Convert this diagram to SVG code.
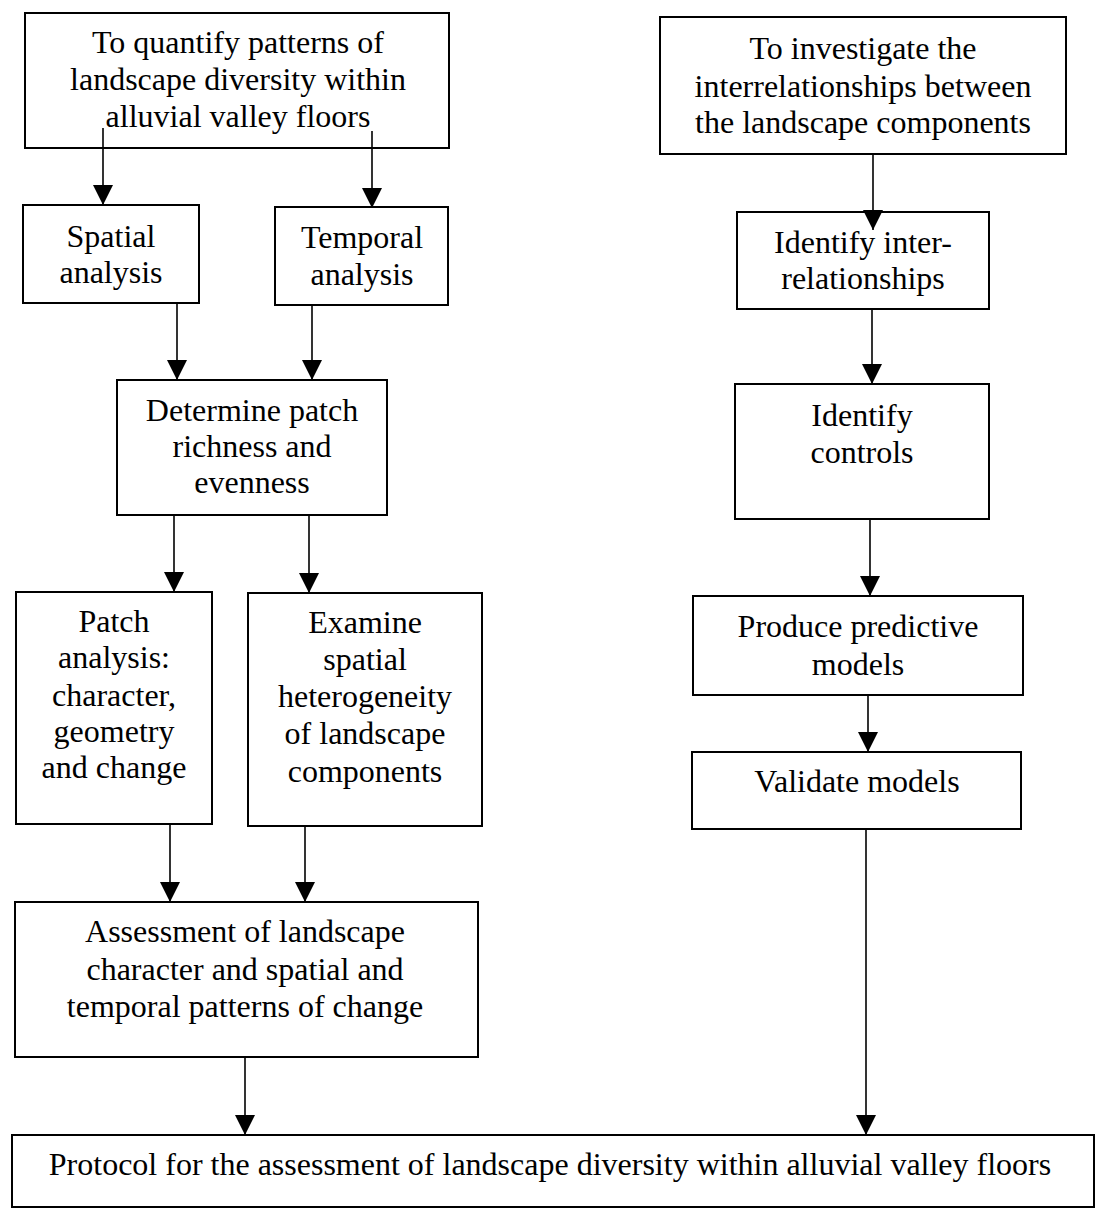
<svg xmlns="http://www.w3.org/2000/svg" width="1097" height="1209" viewBox="0 0 1097 1209">
<style>
.box{fill:#fff;stroke:#000;stroke-width:2}
.t{font-family:"Liberation Serif","Times New Roman",serif;font-size:32px;fill:#000;text-anchor:middle}
.c{stroke:#000;stroke-width:1.6;fill:none;marker-end:url(#ah)}
</style>
<defs>
<marker id="ah" markerUnits="userSpaceOnUse" markerWidth="20" markerHeight="20" refX="20" refY="10" orient="auto" viewBox="0 0 20 20">
<path d="M0,0 L20,10 L0,20 z" fill="#000"/>
</marker>
</defs>
<rect width="1097" height="1209" fill="#fff"/>
<g id="n1"><rect class="box" x="25" y="13" width="424" height="135"/>
<text class="t" x="238" y="53">To quantify patterns of</text>
<text class="t" x="238" y="90">landscape diversity within</text>
<text class="t" x="238" y="127">alluvial valley floors</text></g>
<g id="n2"><rect class="box" x="660" y="17" width="406" height="137"/>
<text class="t" x="863" y="59">To investigate the</text>
<text class="t" x="863" y="97">interrelationships between</text>
<text class="t" x="863" y="133">the landscape components</text></g>
<g id="n3"><rect class="box" x="23" y="205" width="176" height="98"/>
<text class="t" x="111" y="247">Spatial</text>
<text class="t" x="111" y="283">analysis</text></g>
<g id="n4"><rect class="box" x="275" y="207" width="173" height="98"/>
<text class="t" x="362" y="248">Temporal</text>
<text class="t" x="362" y="285">analysis</text></g>
<g id="n5"><rect class="box" x="737" y="212" width="252" height="97"/>
<text class="t" x="863" y="253">Identify inter-</text>
<text class="t" x="863" y="289">relationships</text></g>
<g id="n6"><rect class="box" x="117" y="380" width="270" height="135"/>
<text class="t" x="252" y="421">Determine patch</text>
<text class="t" x="252" y="457">richness and</text>
<text class="t" x="252" y="493">evenness</text></g>
<g id="n7"><rect class="box" x="735" y="384" width="254" height="135"/>
<text class="t" x="862" y="426">Identify</text>
<text class="t" x="862" y="463">controls</text></g>
<g id="n8"><rect class="box" x="16" y="592" width="196" height="232"/>
<text class="t" x="114" y="632">Patch</text>
<text class="t" x="114" y="668">analysis:</text>
<text class="t" x="114" y="706">character,</text>
<text class="t" x="114" y="742">geometry</text>
<text class="t" x="114" y="778">and change</text></g>
<g id="n9"><rect class="box" x="248" y="593" width="234" height="233"/>
<text class="t" x="365" y="633">Examine</text>
<text class="t" x="365" y="670">spatial</text>
<text class="t" x="365" y="707">heterogeneity</text>
<text class="t" x="365" y="744">of landscape</text>
<text class="t" x="365" y="782">components</text></g>
<g id="n10"><rect class="box" x="693" y="596" width="330" height="99"/>
<text class="t" x="858" y="637">Produce predictive</text>
<text class="t" x="858" y="675">models</text></g>
<g id="n11"><rect class="box" x="692" y="752" width="329" height="77"/>
<text class="t" x="857" y="792">Validate models</text></g>
<g id="n12"><rect class="box" x="15" y="902" width="463" height="155"/>
<text class="t" x="245" y="942">Assessment of landscape</text>
<text class="t" x="245" y="980">character and spatial and</text>
<text class="t" x="245" y="1017">temporal patterns of change</text></g>
<g id="n13"><rect class="box" x="12" y="1135" width="1082" height="72"/>
<text class="t" x="550" y="1175">Protocol for the assessment of landscape diversity within alluvial valley floors</text></g>
<g id="connectors">
<line class="c" x1="103" y1="128" x2="103" y2="205"/>
<line class="c" x1="372" y1="131" x2="372" y2="208"/>
<line class="c" x1="873" y1="154" x2="873" y2="230"/>
<line class="c" x1="177" y1="303" x2="177" y2="380"/>
<line class="c" x1="312" y1="305" x2="312" y2="380"/>
<line class="c" x1="872" y1="309" x2="872" y2="384"/>
<line class="c" x1="174" y1="515" x2="174" y2="592"/>
<line class="c" x1="309" y1="515" x2="309" y2="593"/>
<line class="c" x1="870" y1="519" x2="870" y2="596"/>
<line class="c" x1="868" y1="695" x2="868" y2="752"/>
<line class="c" x1="170" y1="824" x2="170" y2="902"/>
<line class="c" x1="305" y1="826" x2="305" y2="902"/>
<line class="c" x1="245" y1="1057" x2="245" y2="1135"/>
<line class="c" x1="866" y1="829" x2="866" y2="1135"/>
</g>
</svg>
